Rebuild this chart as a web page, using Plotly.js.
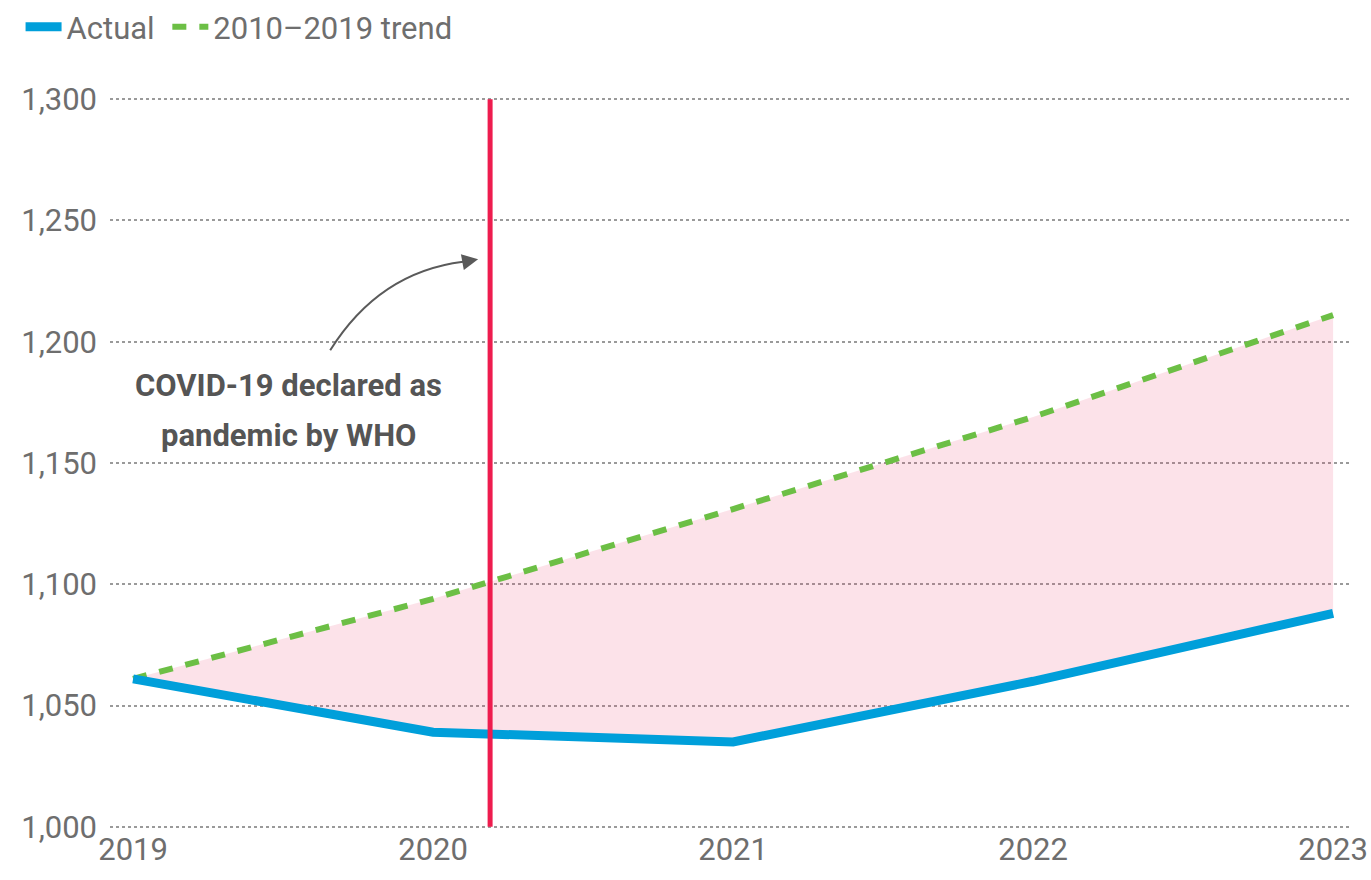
<!DOCTYPE html>
<html>
<head>
<meta charset="utf-8">
<script src="https://cdn.plot.ly/plotly-3.0.1.min.js"></script>
<style>
html,body{margin:0;padding:0;background:#fff;}
#chart{width:1371px;height:880px;}
</style>
</head>
<body>
<div id="chart"></div>
<script>
// Data
const years = [2019, 2020, 2021, 2022, 2023];
const actual = [1061, 1039, 1035, 1060, 1088];
const trend = [1061, 1094, 1131, 1169, 1211];
const pandemicDate = 2020.19; // 11 March 2020
const yTicks = [1000, 1050, 1100, 1150, 1200, 1250, 1300];
const xTickLabels = ['2019', '2020', '2021', '2022', '2023'];

const FONT = 'Roboto, "Open Sans", sans-serif';

const traces = [
  // fill band (no lines)
  {x: years, y: actual, type: 'scatter', mode: 'lines', line: {width: 0, color: 'rgba(0,0,0,0)'},
   showlegend: false, hoverinfo: 'skip'},
  {x: years, y: trend, type: 'scatter', mode: 'lines', line: {width: 0, color: 'rgba(0,0,0,0)'},
   fill: 'tonexty', fillcolor: 'rgba(235,60,110,0.15)', showlegend: false, hoverinfo: 'skip'},
  // visible lines
  {x: years, y: trend, type: 'scatter', mode: 'lines', name: '2010\u20132019 trend',
   line: {color: '#6cbf45', width: 6, dash: '14px,13px'}},
  {x: years, y: actual, type: 'scatter', mode: 'lines', name: 'Actual\u00a0',
   line: {color: '#009fda', width: 9}}
];

const layout = {
  width: 1371, height: 880,
  paper_bgcolor: '#fff', plot_bgcolor: 'rgba(0,0,0,0)',
  margin: {l: 110, r: 19, t: 98, b: 52},
  font: {family: FONT, color: '#6e6e6e', size: 31},
  showlegend: true,
  legend: {
    orientation: 'h', xref: 'container', yref: 'container', x: 0.015, y: 1,
    xanchor: 'left', yanchor: 'top', traceorder: 'reversed',
    font: {family: FONT, size: 31, color: '#6e6e6e'},
    itemwidth: 36, tracegroupgap: 0, bgcolor: 'rgba(0,0,0,0)'
  },
  xaxis: {
    range: [2018.923, 2023.063], tickvals: years, ticktext: xTickLabels,
    showgrid: false, zeroline: false, showline: false, ticks: '',
    tickfont: {family: FONT, size: 31, color: '#6e6e6e'}, fixedrange: true
  },
  yaxis: {
    range: [999.5, 1300.5], tickvals: yTicks, tickformat: ',',
    showgrid: true, gridcolor: '#9a9a9a', gridwidth: 2, griddash: 'dot',
    zeroline: false, showline: false, ticks: '',
    ticklabelstandoff: 12,
    tickfont: {family: FONT, size: 31, color: '#6e6e6e'}, fixedrange: true
  },
  shapes: [
    {type: 'line', xref: 'x', yref: 'y', x0: pandemicDate, x1: pandemicDate, y0: 1000, y1: 1300,
     line: {color: '#ee1c4e', width: 5}, layer: 'above'},
    {type: 'path', xref: 'x', yref: 'y',
     path: 'M 2019.657,1196.5 Q 2019.82,1228.7 2020.10,1233.0',
     line: {color: '#5a5a5a', width: 2}, layer: 'above'}
  ],
  annotations: [
    {x: 2019.517, y: 1000 + (827 - 385) / 2.427, xref: 'x', yref: 'y', text: '<b>COVID-19 declared as</b>',
     showarrow: false, font: {family: FONT, size: 31, color: '#555'}, xanchor: 'center', yanchor: 'middle'},
    {x: 2019.517, y: 1000 + (827 - 435) / 2.427, xref: 'x', yref: 'y', text: '<b>pandemic by WHO</b>',
     showarrow: false, font: {family: FONT, size: 31, color: '#555'}, xanchor: 'center', yanchor: 'middle'},
    {x: 2020.15, y: 1234.0, xref: 'x', yref: 'y', text: '', showarrow: true,
     ax: -16, ay: 3, arrowhead: 2, arrowsize: 1.6, arrowwidth: 2, arrowcolor: '#5a5a5a', standoff: 0}
  ]
};

Plotly.newPlot('chart', traces, layout, {displayModeBar: false, staticPlot: true});
</script>
</body>
</html>
